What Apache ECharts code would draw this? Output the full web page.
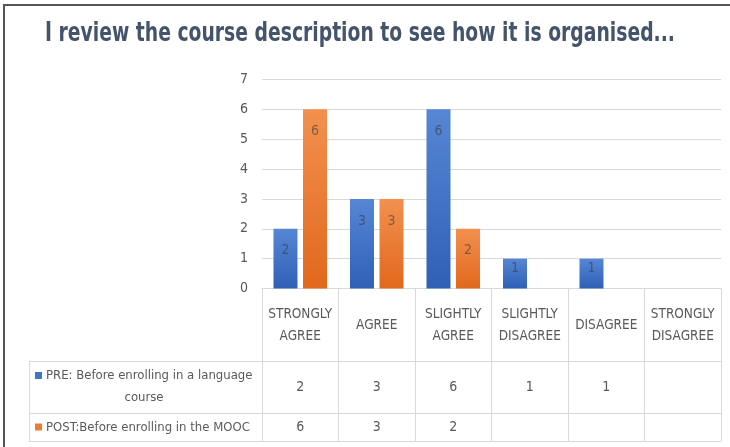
<!DOCTYPE html>
<html>
<head>
<meta charset="utf-8">
<script src="https://cdn.jsdelivr.net/npm/echarts@6/dist/echarts.min.js"></script>
<style>
html,body{margin:0;padding:0;background:#fff;}
#chart{width:730px;height:447px;}
</style>
</head>
<body>
<div id="chart"></div>
<script>
// ---- data ----
const titleText = 'I review the course description to see how it is organised...';
const categories = ['STRONGLY AGREE', 'AGREE', 'SLIGHTLY AGREE', 'SLIGHTLY DISAGREE', 'DISAGREE', 'STRONGLY DISAGREE'];
const seriesNames = ['PRE: Before enrolling in a language course', 'POST:Before enrolling in the MOOC'];
const preValues = [2, 3, 6, 1, 1, null];
const postValues = [6, 3, 2, null, null, null];
const yMin = 0, yMax = 7, yStep = 1;

// ---- styles ----
const FONT = '"DejaVu Sans Condensed", "DejaVu Sans", sans-serif';
const TEXT = '#595959';
const LINE = '#d9d9d9';
const blueGrad = new echarts.graphic.LinearGradient(0, 0, 0, 1, [
  { offset: 0, color: '#5686d4' }, { offset: 1, color: '#2f60b6' }]);
const orangeGrad = new echarts.graphic.LinearGradient(0, 0, 0, 1, [
  { offset: 0, color: '#f3904f' }, { offset: 1, color: '#e1681c' }]);

function barData(vals) {
  return vals.map(v => (v === 1 ? { value: v, label: { distance: 3 } } : v));
}
function cellLabel(vals) {
  return (value, index) => (vals[index] == null ? '' : String(vals[index]));
}
function splitLast(s) {
  const i = s.lastIndexOf(' ');
  return [s.slice(0, i), s.slice(i + 1)];
}
const preLines = splitLast(seriesNames[0]);

// title is drawn in a condensed way to mimic the narrow original typeface
const TITLE_FONT = 'bold 26px ' + FONT;
const mctx = document.createElement('canvas').getContext('2d');
mctx.font = TITLE_FONT;
const titleScale = Math.min(1, 630 / mctx.measureText(titleText).width);

const chart = echarts.init(document.getElementById('chart'), null, { renderer: 'canvas' });
const option = {
  backgroundColor: '#fff',
  animation: false,
  grid: { left: 262, right: 9, top: 79.5, bottom: 158.5, containLabel: false },
  xAxis: [
    {
      type: 'category', data: categories, position: 'bottom',
      axisLine: { lineStyle: { color: LINE, width: 1 } },
      axisTick: { show: true, length: 153, lineStyle: { color: LINE } },
      axisLabel: {
        interval: 0, margin: 36.5, verticalAlign: 'middle',
        fontFamily: FONT, fontSize: 13.5, lineHeight: 22, color: TEXT,
        formatter: v => v.replace(' ', '\n')
      }
    },
    {
      type: 'category', data: categories, position: 'bottom', gridIndex: 0,
      axisLine: { show: false }, axisTick: { show: false },
      axisLabel: { interval: 0, margin: 98.5, verticalAlign: 'middle', fontFamily: FONT, fontSize: 14, color: TEXT,
        formatter: cellLabel(preValues) }
    },
    {
      type: 'category', data: categories, position: 'bottom', gridIndex: 0,
      axisLine: { show: false }, axisTick: { show: false },
      axisLabel: { interval: 0, margin: 138.5, verticalAlign: 'middle', fontFamily: FONT, fontSize: 14, color: TEXT,
        formatter: cellLabel(postValues) }
    }
  ],
  yAxis: {
    type: 'value', min: yMin, max: yMax, interval: yStep,
    axisLine: { show: false }, axisTick: { show: false },
    splitLine: { lineStyle: { color: LINE, width: 1 } },
    axisLabel: { margin: 14, fontFamily: FONT, fontSize: 14, color: TEXT }
  },
  series: [
    {
      name: seriesNames[0], type: 'bar', data: barData(preValues),
      barWidth: 24, barGap: '23%',
      itemStyle: { color: blueGrad },
      label: { show: true, position: 'insideTop', distance: 15, fontFamily: FONT, fontSize: 14, color: 'rgba(60,60,60,0.6)' }
    },
    {
      name: seriesNames[1], type: 'bar', data: barData(postValues),
      barWidth: 24, barGap: '23%',
      itemStyle: { color: orangeGrad },
      label: { show: true, position: 'insideTop', distance: 15, fontFamily: FONT, fontSize: 14, color: 'rgba(60,60,60,0.6)' }
    }
  ],
  graphic: [
    // title
    { type: 'text', x: 45, y: 34, scaleX: titleScale, scaleY: 1,
      style: { text: titleText, font: TITLE_FONT, fill: '#44546A', verticalAlign: 'middle', align: 'left' }, silent: true },
    // frame
    { type: 'line', shape: { x1: 4, y1: 4, x2: 4, y2: 447 }, style: { stroke: '#555', lineWidth: 2 }, silent: true },
    { type: 'line', shape: { x1: 3, y1: 5, x2: 730, y2: 5 }, style: { stroke: '#555', lineWidth: 2 }, silent: true },
    // table rows
    { type: 'line', shape: { x1: 29, y1: 361.5, x2: 721, y2: 361.5 }, style: { stroke: LINE, lineWidth: 1 }, silent: true },
    { type: 'line', shape: { x1: 29, y1: 413.5, x2: 721, y2: 413.5 }, style: { stroke: LINE, lineWidth: 1 }, silent: true },
    { type: 'line', shape: { x1: 29, y1: 441.5, x2: 721, y2: 441.5 }, style: { stroke: LINE, lineWidth: 1 }, silent: true },
    { type: 'line', shape: { x1: 29.5, y1: 361.5, x2: 29.5, y2: 441.5 }, style: { stroke: LINE, lineWidth: 1 }, silent: true },
    // legend keys
    { type: 'rect', shape: { x: 35, y: 372, width: 7, height: 7 }, style: { fill: '#4472C4' }, silent: true },
    { type: 'rect', shape: { x: 35, y: 423.5, width: 7, height: 7 }, style: { fill: '#ED7D31' }, silent: true },
    { type: 'text', x: 46, y: 375.5, style: { text: preLines[0], font: '13px ' + FONT, fill: TEXT, verticalAlign: 'middle', align: 'left' }, silent: true },
    { type: 'text', x: 144, y: 398, style: { text: preLines[1], font: '13px ' + FONT, fill: TEXT, verticalAlign: 'middle', align: 'center' }, silent: true },
    { type: 'text', x: 46, y: 427.5, style: { text: seriesNames[1], font: '13px ' + FONT, fill: TEXT, verticalAlign: 'middle', align: 'left' }, silent: true }
  ]
};
chart.setOption(option);
</script>
</body>
</html>
